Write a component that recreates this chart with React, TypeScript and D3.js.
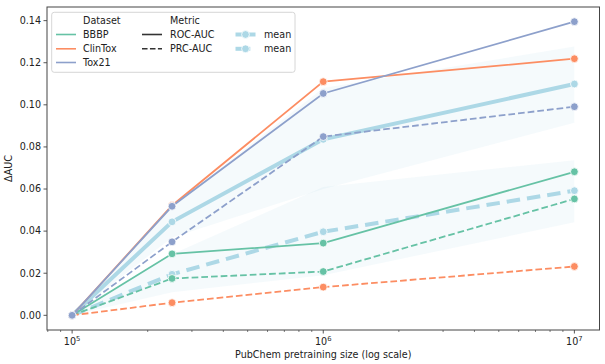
import React from "react";
import * as d3 from "d3";

const sizes = [1e5, 2.5e5, 1e6, 1e7];
const datasetNames = ["BBBP", "ClinTox", "Tox21"];
const datasetColors = ["#66c2a5", "#fc8d62", "#8da0cb"];
const rocBBBP = [0, 0.0292, 0.0343, 0.0682];
const rocClinTox = [0, 0.0522, 0.111, 0.1219];
const rocTox21 = [0, 0.0518, 0.1054, 0.1395];
const prcBBBP = [0, 0.0175, 0.0208, 0.0553];
const prcClinTox = [0, 0.006, 0.0134, 0.0232];
const prcTox21 = [0, 0.0349, 0.0849, 0.0991];
const meanRoc = [0, 0.0444, 0.0836, 0.1099];
const meanPrc = [0, 0.0195, 0.0397, 0.0592];
const rocLow = [0, 0.037, 0.06, 0.0915];
const rocHigh = [0, 0.052, 0.108, 0.1277];
const prcLow = [0, 0.011, 0.019, 0.0442];
const prcHigh = [0, 0.029, 0.061, 0.0737];
const yTicks = [0, 0.02, 0.04, 0.06, 0.08, 0.1, 0.12, 0.14];
const xTickExps = [5, 6, 7];

const W = 605, H = 364;
const L = 47, R = 599.5, T = 7, B = 330;
const FONT = "DejaVu Sans, sans-serif";
const MEAN = "#add8e6";

export default function App() {
  const x = d3.scaleLog().domain([Math.pow(10, 4.9), Math.pow(10, 7.1)]).range([L, R]);
  const y = d3.scaleLinear().domain([-0.006975, 0.146475]).range([B, T]);
  const line = d3.line<number>().x((_, i) => x(sizes[i])).y((v) => y(v));
  const area = (lo: number[], hi: number[]) =>
    d3.area<number>().x((_, i) => x(sizes[i])).y0((_, i) => y(lo[i])).y1((_, i) => y(hi[i]))(lo) || "";

  const series = [
    { v: rocBBBP, c: datasetColors[0], dash: false },
    { v: prcBBBP, c: datasetColors[0], dash: true },
    { v: rocClinTox, c: datasetColors[1], dash: false },
    { v: prcClinTox, c: datasetColors[1], dash: true },
    { v: rocTox21, c: datasetColors[2], dash: false },
    { v: prcTox21, c: datasetColors[2], dash: true },
  ];

  const minor: number[] = [];
  for (let e = 4; e <= 7; e++) for (let k = 2; k <= 9; k++) {
    const v = k * Math.pow(10, e);
    if (v >= x.domain()[0] && v <= x.domain()[1]) minor.push(v);
  }

  const marker = (cx: number, cy: number, c: string, key: string) => (
    <circle key={key} cx={cx} cy={cy} r={3.9} fill={c} stroke="#fff" strokeWidth={0.8} />
  );

  const rowY = [20.5, 34.5, 48.8, 62.5];

  return (
    <svg width={W} height={H} style={{ position: "absolute", left: 0, top: 0 }} fontFamily={FONT}>
      <rect width={W} height={H} fill="#fff" />
      {/* bands */}
      <path d={area(rocLow, rocHigh)} fill={MEAN} fillOpacity={0.12} stroke="none" />
      <path d={area(prcLow, prcHigh)} fill={MEAN} fillOpacity={0.12} stroke="none" />
      {/* mean lines */}
      <path d={line(meanRoc) || ""} fill="none" stroke={MEAN} strokeWidth={4} />
      <path d={line(meanPrc) || ""} fill="none" stroke={MEAN} strokeWidth={4} strokeDasharray="13.5,7" />
      {meanRoc.map((v, i) => marker(x(sizes[i]), y(v), MEAN, "mr" + i))}
      {meanPrc.map((v, i) => marker(x(sizes[i]), y(v), MEAN, "mp" + i))}
      {/* dataset lines */}
      {series.map((s, si) => (
        <g key={"s" + si}>
          <path d={line(s.v) || ""} fill="none" stroke={s.c} strokeWidth={1.8} strokeDasharray={s.dash ? "6.7,3" : undefined} />
          {s.v.map((v, i) => marker(x(sizes[i]), y(v), s.c, "m" + si + "_" + i))}
        </g>
      ))}
      {/* frame */}
      <rect x={L} y={T} width={R - L} height={B - T} fill="none" stroke="#444" strokeWidth={1} />
      {/* y ticks */}
      {yTicks.map((t) => (
        <g key={"y" + t}>
          <line x1={L - 3.5} x2={L} y1={y(t)} y2={y(t)} stroke="#444" strokeWidth={0.9} />
          <text x={L - 6} y={y(t)} dy="0.35em" textAnchor="end" fontSize={9.6} fill="#222">{d3.format(".2f")(t)}</text>
        </g>
      ))}
      {/* x ticks */}
      {minor.map((v, i) => (
        <line key={"mi" + i} x1={x(v)} x2={x(v)} y1={B} y2={B + 2} stroke="#444" strokeWidth={0.7} />
      ))}
      {xTickExps.map((e) => {
        const px = x(Math.pow(10, e));
        return (
          <g key={"x" + e}>
            <line x1={px} x2={px} y1={B} y2={B + 3.5} stroke="#444" strokeWidth={0.9} />
            <text x={px} y={B + 15} textAnchor="middle" fontSize={9.6} fill="#222">
              10<tspan fontSize={6.8} dy={-4}>{e}</tspan>
            </text>
          </g>
        );
      })}
      {/* axis labels */}
      <text x={(L + R) / 2} y={358} textAnchor="middle" fontSize={9.6} fill="#222">PubChem pretraining size (log scale)</text>
      <text transform={`translate(12,${(T + B) / 2}) rotate(-90)`} textAnchor="middle" fontSize={9.6} fill="#222">ΔAUC</text>
      {/* legend */}
      <rect x={51.7} y={12.3} width={243.3} height={60} rx={2.5} fill="#fff" fillOpacity={0.8} stroke="#ccc" strokeWidth={0.8} />
      <text x={83} y={rowY[0]} dy="0.35em" fontSize={9.6} fill="#222">Dataset</text>
      {datasetNames.map((n, i) => (
        <g key={"l" + n}>
          <line x1={56} x2={76} y1={rowY[i + 1]} y2={rowY[i + 1]} stroke={datasetColors[i]} strokeWidth={1.6} />
          <text x={83} y={rowY[i + 1]} dy="0.35em" fontSize={9.6} fill="#222">{n}</text>
        </g>
      ))}
      <text x={170} y={rowY[0]} dy="0.35em" fontSize={9.6} fill="#222">Metric</text>
      <line x1={142} x2={162} y1={rowY[1]} y2={rowY[1]} stroke="#333" strokeWidth={1.6} />
      <text x={170} y={rowY[1]} dy="0.35em" fontSize={9.6} fill="#222">ROC-AUC</text>
      <line x1={142} x2={162} y1={rowY[2]} y2={rowY[2]} stroke="#333" strokeWidth={1.6} strokeDasharray="5.55,2.4" />
      <text x={170} y={rowY[2]} dy="0.35em" fontSize={9.6} fill="#222">PRC-AUC</text>
      <line x1={235.5} x2={255.5} y1={rowY[1]} y2={rowY[1]} stroke={MEAN} strokeWidth={4} />
      {marker(245.5, rowY[1], MEAN, "lm1")}
      <text x={264} y={rowY[1]} dy="0.35em" fontSize={9.6} fill="#222">mean</text>
      <line x1={235.5} x2={255.5} y1={rowY[2]} y2={rowY[2]} stroke={MEAN} strokeWidth={4} strokeDasharray="14.8,6.4" />
      {marker(245.5, rowY[2], MEAN, "lm2")}
      <text x={264} y={rowY[2]} dy="0.35em" fontSize={9.6} fill="#222">mean</text>
    </svg>
  );
}
